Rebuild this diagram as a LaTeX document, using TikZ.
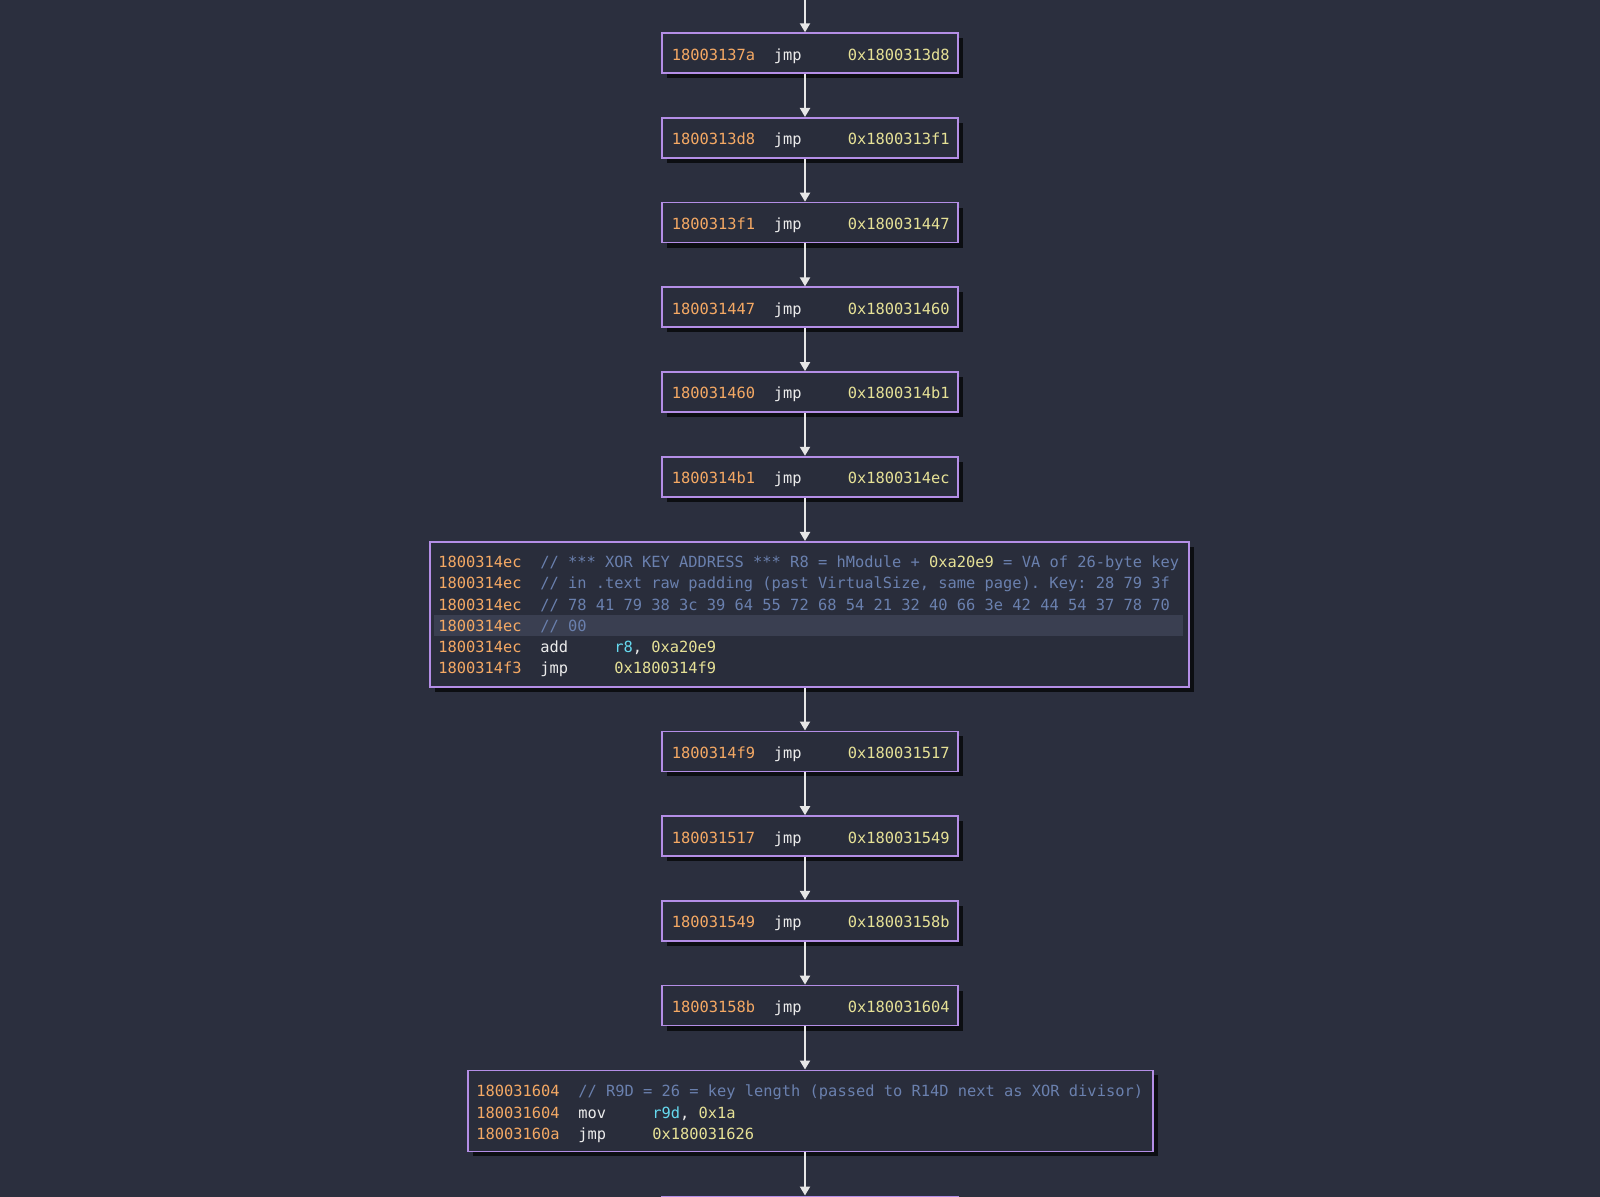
\documentclass[tikz,border=0pt]{standalone}
\usepackage{fontspec}
\usetikzlibrary{arrows.meta,shadows}
\newfontfamily\codefont{DejaVu Sans Mono}
\definecolor{bgc}{HTML}{2B2F3E}
\definecolor{boxc}{HTML}{292D3B}
\definecolor{bordc}{HTML}{B48EE6}
\definecolor{addrc}{HTML}{F5A964}
\definecolor{mnc}{HTML}{ECECEC}
\definecolor{tgtc}{HTML}{E6E196}
\definecolor{cmtc}{HTML}{6A80AE}
\definecolor{regc}{HTML}{66D9EF}
\definecolor{hlc}{HTML}{3A3F51}
\definecolor{arrc}{HTML}{E6E6E6}
\newlength\cw
\newcommand\codesetup{\codefont\fontsize{7.69pt}{10.6pt}\selectfont
  \settowidth{\cw}{0}}
\newcommand\fixsp{\spaceskip=\cw\relax\xspaceskip=\cw\relax}
\newcommand\col[3]{\makebox[#1\cw][l]{\color{#2}#3}}
\newcommand\ad[1]{\col{11}{addrc}{#1}}
\newcommand\mn[1]{\col{8}{mnc}{#1}}
\newcommand\tg[1]{{\color{tgtc}#1}}
\newcommand\cm[1]{{\color{cmtc}#1}}
\newcommand\rg[1]{{\color{regc}#1}}
\newcommand\hlrow{\makebox[0pt][l]{\hspace{-2pt}{\color{hlc}\rule[-2.6pt]{374.5pt}{10.85pt}}}}
\begin{document}
\begin{tikzpicture}[x=0.5pt,y=-0.5pt,
  blk/.style={draw=bordc, line width=0.9pt, fill=boxc, anchor=north west,
    inner xsep=5pt, inner ysep=1pt, align=left,
    font=\codesetup,
    drop shadow={shadow xshift=2.5pt, shadow yshift=-2.5pt, fill=black, opacity=0.7}},
  small/.style={blk, minimum height=20pt, text width=138pt, text height=8.4pt, text depth=1.5pt},
  arr/.style={draw=arrc, line width=1pt, -{Triangle[width=5pt,length=4.5pt]}}
]
\fill[bgc] (0,0) rectangle (1600,1197);
\useasboundingbox (0,0) rectangle (1600,1197);
\clip (0,0) rectangle (1600,1197);

\node[small] (n1) at (661,32.3) {\ad{18003137a}\mn{jmp}\tg{0x1800313d8}};
\node[small] (n2) at (661,117) {\ad{1800313d8}\mn{jmp}\tg{0x1800313f1}};
\node[small] (n3) at (661,201.7) {\ad{1800313f1}\mn{jmp}\tg{0x180031447}};
\node[small] (n4) at (661,286.4) {\ad{180031447}\mn{jmp}\tg{0x180031460}};
\node[small] (n5) at (661,371.1) {\ad{180031460}\mn{jmp}\tg{0x1800314b1}};
\node[small] (n6) at (661,455.8) {\ad{1800314b1}\mn{jmp}\tg{0x1800314ec}};

\node[blk, text width=371pt, minimum height=72.5pt, inner xsep=4.25pt] (b1) at (429,541) {\fixsp
\rule{0pt}{7.8pt}\ad{1800314ec}\cm{// *** XOR KEY ADDRESS *** R8 = hModule + }\tg{0xa20e9} \cm{= VA of 26-byte key}\\
\ad{1800314ec}\cm{// in .text raw padding (past VirtualSize, same page). Key: 28 79 3f}\\
\ad{1800314ec}\cm{// 78 41 79 38 3c 39 64 55 72 68 54 21 32 40 66 3e 42 44 54 37 78 70}\\
\hlrow\ad{1800314ec}\cm{// 00}\\
\ad{1800314ec}\mn{add}\rg{r8}{\color{mnc},} \tg{0xa20e9}\\
\ad{1800314f3}\mn{jmp}\tg{0x1800314f9}};

\node[small] (n7) at (661,730.5) {\ad{1800314f9}\mn{jmp}\tg{0x180031517}};
\node[small] (n8) at (661,815.2) {\ad{180031517}\mn{jmp}\tg{0x180031549}};
\node[small] (n9) at (661,899.9) {\ad{180031549}\mn{jmp}\tg{0x18003158b}};
\node[small] (n10) at (661,984.6) {\ad{18003158b}\mn{jmp}\tg{0x180031604}};

\node[blk, text width=334pt, minimum height=40.5pt, inner xsep=4.25pt] (b2) at (467,1069.5) {\fixsp
\rule{0pt}{8.8pt}\ad{180031604}\cm{// R9D = 26 = key length (passed to R14D next as XOR divisor)}\\
\ad{180031604}\mn{mov}\rg{r9d}{\color{mnc},} \tg{0x1a}\\
\ad{18003160a}\mn{jmp}\tg{0x180031626}};

\node[small] (n11) at (661,1195.5) {};

\coordinate (t0) at (805,0);
\draw[arr] (t0) -- (n1.north -| t0);
\draw[arr] (n1.south -| t0) -- (n2.north -| t0);
\draw[arr] (n2.south -| t0) -- (n3.north -| t0);
\draw[arr] (n3.south -| t0) -- (n4.north -| t0);
\draw[arr] (n4.south -| t0) -- (n5.north -| t0);
\draw[arr] (n5.south -| t0) -- (n6.north -| t0);
\draw[arr] (n6.south -| t0) -- (b1.north -| t0);
\draw[arr] (b1.south -| t0) -- (n7.north -| t0);
\draw[arr] (n7.south -| t0) -- (n8.north -| t0);
\draw[arr] (n8.south -| t0) -- (n9.north -| t0);
\draw[arr] (n9.south -| t0) -- (n10.north -| t0);
\draw[arr] (n10.south -| t0) -- (b2.north -| t0);
\draw[arr] (b2.south -| t0) -- (n11.north -| t0);
\end{tikzpicture}
\end{document}
